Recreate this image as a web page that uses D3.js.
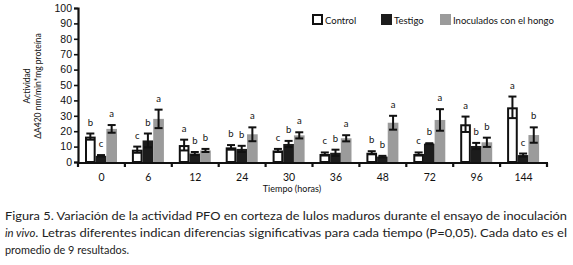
<!DOCTYPE html>
<html>
<head>
<meta charset="utf-8">
<script src="https://cdn.jsdelivr.net/npm/d3@7"></script>
<style>
  body { margin:0; background:#fff; }
  svg { display:block; font-family: Lato, "Open Sans", sans-serif; }
</style>
</head>
<body>
<div id="chart"></div>
<script>
// data
const times = ["0","6","12","24","30","36","48","72","96","144"]
const series = ["Control","Testigo","Inoculados con el hongo"]
const control     = [16.5, 8, 11, 9.5, 7.5, 5.2, 6, 5.2, 24.5, 35.5]
const controlErr  = [2, 2, 3.5, 1.5, 1, 1, 1, 1, 5, 7]
const testigo     = [4, 14, 5.5, 8.5, 11.7, 6, 3.5, 11.9, 10.4, 4.5]
const testigoErr  = [0.5, 4.5, 1, 2, 2, 2, 0.5, 0.3, 2, 1]
const inoc        = [21.5, 28, 7.5, 18, 17.3, 15.4, 25.5, 27.3, 12.8, 17.5]
const inocErr     = [2.5, 6, 1, 4.5, 2, 2, 4.5, 7, 3, 5]
const controlLbl  = ["b","c","a","b","c","c","b","c","a","a"]
const testigoLbl  = ["c","b","b","b","b","b","b","b","b","c"]
const inocLbl     = ["a","a","b","a","a","a","a","a","b","b"]
const yTicks = [0,10,20,30,40,50,60,70,80,90,100]

const W = 573, H = 265
const svg = d3.select("#chart").append("svg").attr("width", W).attr("height", H)

const x = d3.scaleBand().domain(times).range([78, 547]).paddingInner(0).paddingOuter(0)
const xs = d3.scaleBand().domain(series).range([7, 39])
const y = d3.scaleLinear().domain([0, 100]).range([162, 8])

const fills = {"Control":"#fff","Testigo":"#1c1c1c","Inoculados con el hongo":"#9b9b9b"}

const rows = []
times.forEach((t,i)=>{
  rows.push({t, s:series[0], v:control[i], e:controlErr[i], l:controlLbl[i]})
  rows.push({t, s:series[1], v:testigo[i], e:testigoErr[i], l:testigoLbl[i]})
  rows.push({t, s:series[2], v:inoc[i], e:inocErr[i], l:inocLbl[i]})
})

// bars
svg.append("g").selectAll("rect").data(rows).join("rect")
  .attr("x", d=>x(d.t)+xs(d.s) + (d.s==="Control"?1:0))
  .attr("width", d=> xs.bandwidth() - (d.s==="Control"?2:0))
  .attr("y", d=>y(d.v) + (d.s==="Control"?1:0))
  .attr("height", d=>y(0)-y(d.v) - (d.s==="Control"?1:0))
  .attr("fill", d=>fills[d.s])
  .attr("stroke", d=>d.s==="Control"?"#111":"none")
  .attr("stroke-width", 2)

// error bars
const eb = svg.append("g").attr("stroke","#111").attr("stroke-width",2)
rows.forEach(d=>{
  const cx = x(d.t)+xs(d.s)+xs.bandwidth()/2
  eb.append("line").attr("x1",cx).attr("x2",cx).attr("y1",y(d.v-d.e)).attr("y2",y(d.v+d.e))
  eb.append("line").attr("x1",cx-4).attr("x2",cx+4).attr("y1",y(d.v+d.e)).attr("y2",y(d.v+d.e))
  eb.append("line").attr("x1",cx-4).attr("x2",cx+4).attr("y1",y(d.v-d.e)).attr("y2",y(d.v-d.e))
})

// significance letters
svg.append("g").selectAll("text").data(rows).join("text")
  .attr("x", d=>x(d.t)+xs(d.s)+xs.bandwidth()/2)
  .attr("y", d=>y(d.v+d.e)-8)
  .attr("text-anchor","middle")
  .attr("font-size", 9.5)
  .attr("fill","#111")
  .text(d=>d.l)

// y axis
const yAxis = svg.append("g").attr("transform","translate(78,0)")
  .call(d3.axisLeft(y).tickValues(yTicks).tickSize(4).tickPadding(2))
yAxis.select(".domain").attr("stroke","#111").attr("stroke-width",2.2)
yAxis.selectAll(".tick line").attr("stroke","#111").attr("stroke-width",1.6)
yAxis.selectAll(".tick text").attr("font-size",10.5).attr("fill","#111")

// x axis
svg.append("line").attr("x1",77).attr("x2",548).attr("y1",163).attr("y2",163)
  .attr("stroke","#111").attr("stroke-width",2)
const bounds = times.map(t=>x(t)).concat([x(times[times.length-1])+x.bandwidth()])
svg.append("g").selectAll("line").data(bounds).join("line")
  .attr("x1",d=>d).attr("x2",d=>d).attr("y1",163).attr("y2",167)
  .attr("stroke","#111").attr("stroke-width",2.2)
svg.append("g").selectAll("text").data(times).join("text")
  .attr("x",d=>x(d)+x.bandwidth()/2).attr("y",181)
  .attr("text-anchor","middle").attr("font-size",10.5).attr("fill","#111")
  .text(d=>d)

svg.append("text").attr("x",292).attr("y",192).attr("text-anchor","middle")
  .attr("font-size",9).attr("fill","#111").text("Tiempo (horas)")

// y title
const yt = svg.append("text").attr("transform","translate(30,86) rotate(-90)")
  .attr("text-anchor","middle").attr("font-size",8.5).attr("fill","#111")
yt.append("tspan").attr("x",0).attr("dy",0).text("Actividad")
yt.append("tspan").attr("x",0).attr("dy",10.5).text("ΔA420 nm/min*mg proteína")

// legend
const legX = [312, 381, 440]
const lg = svg.append("g").selectAll("g").data(series).join("g")
  .attr("transform",(d,i)=>`translate(${legX[i]},14)`)
lg.append("rect").attr("x",d=>d==="Control"?1:0).attr("y",d=>d==="Control"?1:0)
  .attr("width",d=>d==="Control"?9:11).attr("height",d=>d==="Control"?9:11)
  .attr("fill",d=>fills[d]).attr("stroke",d=>d==="Control"?"#111":"none").attr("stroke-width",2)
lg.append("text").attr("x",13).attr("y",9.5).attr("font-size",9.5).attr("fill","#111").text(d=>d)

// caption
const cap = svg.append("g").attr("fill","#222").attr("font-size",12)
cap.append("text").attr("x",5).attr("y",220).attr("textLength",562).attr("lengthAdjust","spacingAndGlyphs")
  .text("Figura 5. Variación de la actividad PFO en corteza de lulos maduros durante el ensayo de inoculación")
const c2 = cap.append("text").attr("x",5).attr("y",237).attr("textLength",562).attr("lengthAdjust","spacingAndGlyphs")
c2.append("tspan").attr("font-style","italic").attr("font-size",10.5).text("in vivo")
c2.append("tspan").text(". Letras diferentes indican diferencias significativas para cada tiempo (P=0,05). Cada dato es el")
cap.append("text").attr("x",5).attr("y",254).attr("textLength",124).attr("lengthAdjust","spacingAndGlyphs")
  .text("promedio de 9 resultados.")
</script>
</body>
</html>
